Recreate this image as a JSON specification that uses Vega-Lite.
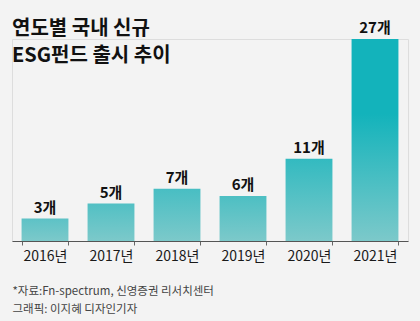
{
  "$schema": "https://vega.github.io/schema/vega-lite/v6.json",
  "width": 396,
  "height": 202,
  "autosize": "none",
  "padding": {"left": 12, "top": 39, "right": 12, "bottom": 80},
  "background": "#f3f3f3",
  "title": {
    "text": ["연도별 국내 신규", "ESG펀드 출시 추이"],
    "anchor": "start",
    "frame": "group",
    "orient": "top",
    "baseline": "bottom",
    "offset": 0,
    "dy": 65,
    "font": "Noto Sans CJK KR",
    "fontSize": 20,
    "fontWeight": "bold",
    "color": "#111111",
    "lineHeight": 27
  },
  "data": {
    "values": [
      {"year": "2016년", "value": 3, "label": "3개"},
      {"year": "2017년", "value": 5, "label": "5개"},
      {"year": "2018년", "value": 7, "label": "7개"},
      {"year": "2019년", "value": 6, "label": "6개"},
      {"year": "2020년", "value": 11, "label": "11개"},
      {"year": "2021년", "value": 27, "label": "27개"}
    ]
  },
  "encoding": {
    "x": {
      "field": "year",
      "type": "ordinal",
      "sort": null,
      "scale": {"paddingInner": 0.29, "paddingOuter": 0.145},
      "axis": {
        "title": ["*자료:Fn-spectrum, 신영증권 리서치센터", "그래픽: 이지혜 디자인기자"],
        "titleFont": "Noto Sans CJK KR",
        "titleFontSize": 11.5,
        "titleFontWeight": "normal",
        "titleColor": "#444444",
        "titleAnchor": "start",
        "titleAlign": "left",
        "titleBaseline": "top",
        "titleX": 0,
        "titleY": 44,
        "titleLineHeight": 18,
        "labelAngle": 0,
        "labelFont": "Noto Sans CJK KR",
        "labelFontSize": 14,
        "labelColor": "#1a1a1a",
        "labelPadding": 4,
        "tickBand": "extent",
        "tickSize": 4,
        "tickColor": "#666666",
        "domainColor": "#555555",
        "grid": false
      }
    },
    "y": {
      "field": "value",
      "type": "quantitative",
      "scale": {"domain": [0, 27], "nice": false},
      "axis": null
    }
  },
  "layer": [
    {
      "mark": {
        "type": "bar",
        "fill": {"expr": "{gradient: 'linear', x1: 0, y1: 0, x2: 0, y2: 1, stops: [{offset: 0, color: 'rgb(' + round(124 - 105 * min(0.15 + datum.value / 20, 1)) + ',' + round(201 - 22 * min(0.15 + datum.value / 20, 1)) + ',' + round(202 - 15 * min(0.15 + datum.value / 20, 1)) + ')'}, {offset: max(0, 1 - 17 / datum.value), color: 'rgb(' + round(124 - 105 * min(0.15 + datum.value / 20, 1)) + ',' + round(201 - 22 * min(0.15 + datum.value / 20, 1)) + ',' + round(202 - 15 * min(0.15 + datum.value / 20, 1)) + ')'}, {offset: 1, color: 'rgb(124,201,202)'}]}"}
      }
    },
    {
      "mark": {
        "type": "text",
        "baseline": "bottom",
        "dy": -3,
        "font": "Noto Sans CJK KR",
        "fontSize": 15,
        "fontWeight": "bold",
        "letterSpacing": -1,
        "color": "#111111"
      },
      "encoding": {"text": {"field": "label"}}
    }
  ]
}
